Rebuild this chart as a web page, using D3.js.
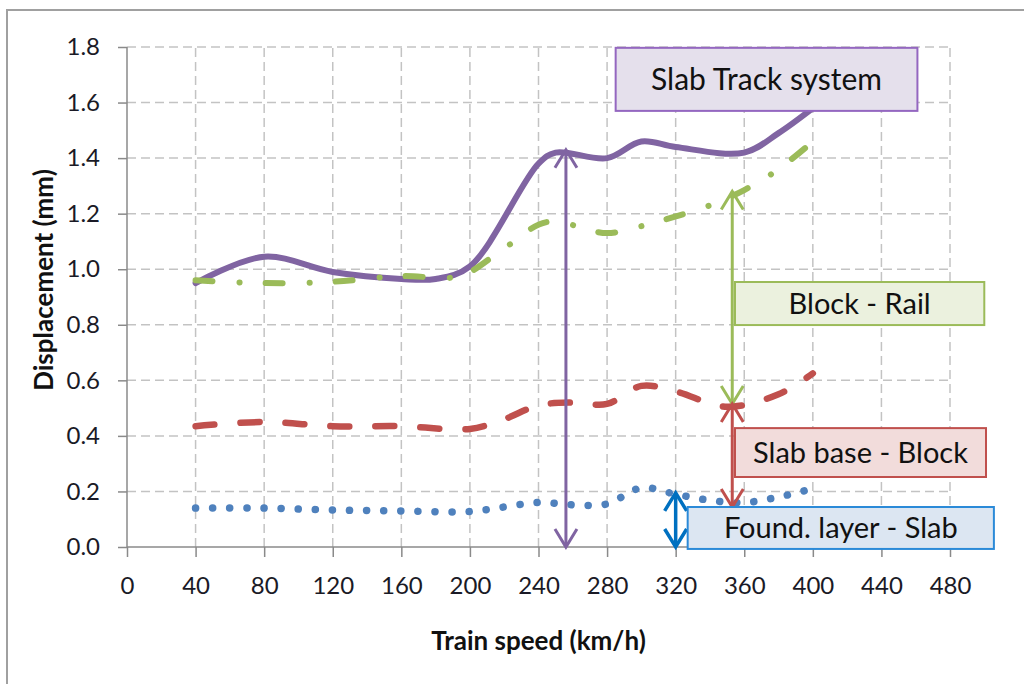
<!DOCTYPE html>
<html>
<head>
<meta charset="utf-8">
<script src="https://cdn.jsdelivr.net/npm/d3@7"></script>
<style>
  body { margin: 0; background: #fff; }
  svg { display: block; font-family: Lato, "Open Sans", sans-serif; }
  .grid line { stroke: #c3c3c3; stroke-width: 1.5; stroke-dasharray: 9,5; }
  .axis path, .axis line { stroke: #8a8a8a; stroke-width: 1.5; }
  .axis text { font-size: 24px; fill: #1a1a26; }
</style>
</head>
<body>
<svg id="chart" width="1024" height="684"></svg>
<script>
// x ticks, y ticks
let speedTicks = d3.range(0, 481, 40),
    dispTicks = d3.range(0, 1.81, 0.2);

// Slab Track system (solid purple)
let slabTrackSpeed = [40, 80, 120, 160, 180, 200, 240, 250, 280, 300, 320, 360, 380, 400],
    slabTrackDisp  = [0.95, 1.045, 0.99, 0.965, 0.965, 1.01, 1.38, 1.42, 1.40, 1.46, 1.44, 1.42, 1.49, 1.58];

// Block - Rail (green dash dot)
let blockRailSpeed = [40, 80, 120, 160, 190, 200, 220, 245, 280, 300, 320, 340, 360, 380, 400],
    blockRailDisp  = [0.96, 0.95, 0.955, 0.975, 0.97, 0.99, 1.075, 1.17, 1.13, 1.155, 1.19, 1.23, 1.285, 1.36, 1.46];

// Slab base - Block (red dashed)
let slabBaseSpeed = [40, 80, 120, 160, 200, 220, 240, 260, 280, 300, 320, 350, 380, 400],
    slabBaseDisp  = [0.435, 0.45, 0.435, 0.435, 0.425, 0.46, 0.51, 0.52, 0.515, 0.58, 0.56, 0.505, 0.55, 0.625];

// Found. layer - Slab (blue dotted)
let foundSpeed = [40, 80, 120, 160, 200, 240, 260, 280, 300, 320, 340, 360, 380, 400],
    foundDisp  = [0.14, 0.14, 0.133, 0.13, 0.128, 0.16, 0.152, 0.155, 0.213, 0.19, 0.168, 0.16, 0.18, 0.21];

// annotation labels and their boxes / arrows, in data units
let labelText = ['Slab Track system', 'Block - Rail', 'Slab base - Block', 'Found. layer - Slab'],
    labelBoxX = [[285, 461], [354.6, 500], [354.6, 501], [327, 505.6]],
    labelBoxY = [[1.797, 1.57], [0.954, 0.799], [0.428, 0.252], [0.144, -0.007]];

let arrowSpeed = [256, 353, 353, 320],
    arrowFrom  = [0, 0.515, 0.144, 0],
    arrowTo    = [1.43, 1.28, 0.515, 0.195];

let colors = ['#8064a2', '#9bbb59', '#c0504d', '#4f81bd'],
    boxFill = ['#e5e0ec', '#ebf1de', '#f2dcdb', '#dce6f2'],
    boxStroke = ['#9467c0', '#9bbb59', '#c0504d', '#2b8ad8'],
    arrowColor = ['#8064a2', '#9bbb59', '#c0504d', '#0070c0'];

let svg = d3.select('#chart');

// outer frame
svg.append('rect')
    .attr('x', 7).attr('y', 10)
    .attr('width', 1100).attr('height', 800)
    .attr('fill', 'none')
    .attr('stroke', '#a0a0a0')
    .attr('stroke-width', 2);

let x = d3.scaleLinear().domain([0, 480]).range([127, 950]),
    y = d3.scaleLinear().domain([0, 1.8]).range([547, 47]);

// grid
let grid = svg.append('g').attr('class', 'grid');
grid.selectAll('line.h')
    .data(dispTicks.slice(1))
    .enter().append('line')
    .attr('x1', x(0)).attr('x2', x(480))
    .attr('y1', d => y(d)).attr('y2', d => y(d));
grid.selectAll('line.v')
    .data(speedTicks.slice(1))
    .enter().append('line')
    .attr('x1', d => x(d)).attr('x2', d => x(d))
    .attr('y1', y(0)).attr('y2', y(1.8));

// axes
svg.append('g')
    .attr('class', 'axis')
    .attr('transform', 'translate(' + x(0) + ',0)')
    .call(d3.axisLeft(y).tickValues(dispTicks).tickSize(9).tickPadding(18)
          .tickFormat(d3.format('.1f')))
    .call(g => g.select('.domain').attr('d', 'M0,' + y(0) + 'V' + y(1.8)));

svg.append('g')
    .attr('class', 'axis')
    .attr('transform', 'translate(0,' + y(0) + ')')
    .call(d3.axisBottom(x).tickValues(speedTicks).tickSize(10).tickPadding(20)
          .tickFormat(d3.format('d')))
    .call(g => g.select('.domain').attr('d', 'M' + x(0) + ',0H' + x(480)));

svg.selectAll('.axis text').attr('font-family', 'Lato, sans-serif');

// axis titles
svg.append('text')
    .attr('x', x(240)).attr('y', 650)
    .attr('text-anchor', 'middle')
    .attr('font-size', 26).attr('font-weight', 'bold').attr('fill', '#111')
    .text('Train speed (km/h)');

svg.append('text')
    .attr('transform', 'translate(53,' + 280 + ') rotate(-90)')
    .attr('text-anchor', 'middle')
    .attr('font-size', 26).attr('font-weight', 'bold').attr('fill', '#111')
    .text('Displacement (mm)');

// series
let lineFunc = d3.line()
    .x(d => x(d[0]))
    .y(d => y(d[1]))
    .curve(d3.curveCatmullRom.alpha(0.5));

let series = [
    { speed: slabTrackSpeed, disp: slabTrackDisp, width: 6, dash: null },
    { speed: blockRailSpeed, disp: blockRailDisp, width: 6, dash: '17,27,0.1,26' },
    { speed: slabBaseSpeed, disp: slabBaseDisp, width: 6.5, dash: '19,26' },
    { speed: foundSpeed, disp: foundDisp, width: 7.5, dash: '0.1,17' }
];

svg.append('g')
    .selectAll('path')
    .data(series)
    .enter().append('path')
    .attr('d', d => lineFunc(d3.zip(d.speed, d.disp)))
    .attr('fill', 'none')
    .attr('stroke', (d, i) => colors[i])
    .attr('stroke-width', d => d.width)
    .attr('stroke-linecap', 'round')
    .attr('stroke-dasharray', d => d.dash);

// double headed arrows
let arrows = svg.append('g');
arrowSpeed.forEach(function(s, i) {
    let ax = x(s), y1 = y(arrowFrom[i]), y2 = y(arrowTo[i]),
        hw = 11, hl = 18, col = arrowColor[i],
        sw = i == 3 ? 3.5 : 3;
    arrows.append('path')
        .attr('d', 'M' + ax + ',' + y1 + 'V' + y2)
        .attr('stroke', col).attr('stroke-width', sw);
    arrows.append('path')
        .attr('d', 'M' + (ax - hw) + ',' + (y2 + hl) + 'L' + ax + ',' + y2 + 'L' + (ax + hw) + ',' + (y2 + hl) +
                   'M' + (ax - hw) + ',' + (y1 - hl) + 'L' + ax + ',' + y1 + 'L' + (ax + hw) + ',' + (y1 - hl))
        .attr('fill', 'none')
        .attr('stroke', col).attr('stroke-width', sw);
});

// label boxes
let labels = svg.append('g')
    .selectAll('g')
    .data(labelText)
    .enter().append('g');

labels.append('rect')
    .attr('x', (d, i) => x(labelBoxX[i][0]))
    .attr('y', (d, i) => y(labelBoxY[i][0]))
    .attr('width', (d, i) => x(labelBoxX[i][1]) - x(labelBoxX[i][0]))
    .attr('height', (d, i) => y(labelBoxY[i][1]) - y(labelBoxY[i][0]))
    .attr('fill', (d, i) => boxFill[i])
    .attr('stroke', (d, i) => boxStroke[i])
    .attr('stroke-width', 2);

labels.append('text')
    .attr('x', (d, i) => (x(labelBoxX[i][0]) + x(labelBoxX[i][1])) / 2)
    .attr('y', (d, i) => (y(labelBoxY[i][0]) + y(labelBoxY[i][1])) / 2)
    .attr('dy', '0.36em')
    .attr('text-anchor', 'middle')
    .attr('font-size', (d, i) => i == 0 ? 30 : 29)
    .attr('fill', '#111')
    .text(d => d);
</script>
</body>
</html>
